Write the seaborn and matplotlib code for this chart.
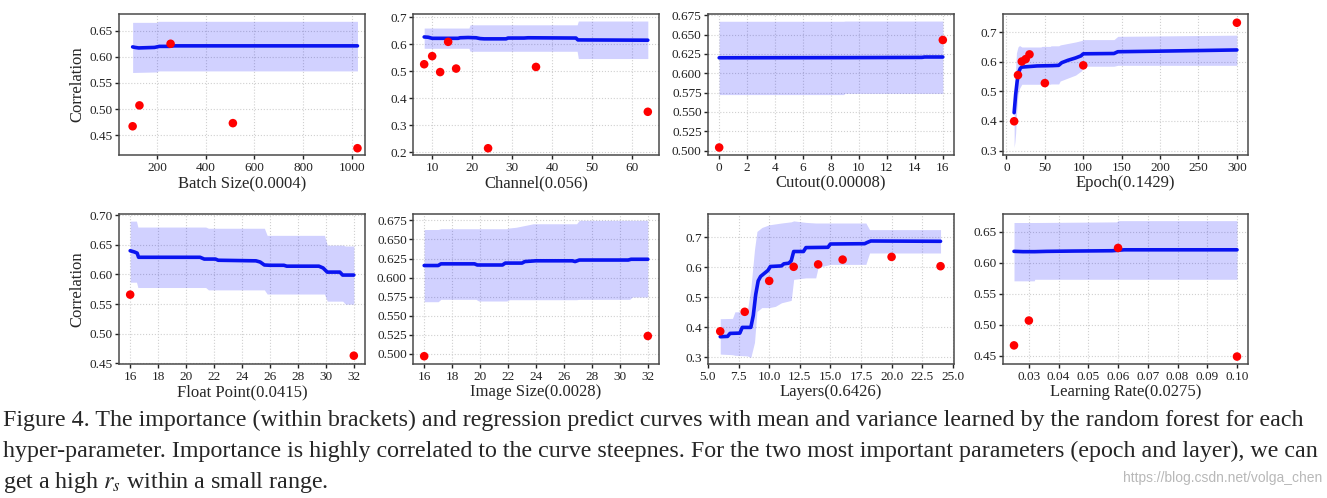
import numpy as np
import pandas as pd
import matplotlib
matplotlib.use("Agg")
import matplotlib.pyplot as plt
from matplotlib.ticker import MultipleLocator, FormatStrFormatter
import seaborn as sns

# ---------------- data ----------------
# Batch Size
bs_x = [100, 128, 256, 512, 1024]
bs_y = [0.467, 0.507, 0.625, 0.473, 0.425]
bs_cx = [100, 110, 125, 190, 210, 250, 270, 1024]
bs_mean = [0.619, 0.618, 0.617, 0.618, 0.620, 0.620, 0.621, 0.621]
bs_bx = [100, 200, 205, 1024]
bs_hi = [0.666, 0.666, 0.668, 0.668]
bs_lo = [0.570, 0.571, 0.573, 0.573]

# Channel
ch_x = [8, 10, 12, 14, 16, 24, 36, 64]
ch_y = [0.526, 0.556, 0.497, 0.609, 0.510, 0.215, 0.516, 0.350]
ch_cx = [8, 9, 10, 16.5, 17, 19, 21, 22, 23, 28.5, 29, 33, 34, 46, 46.5, 64]
ch_mean = [0.627, 0.626, 0.622, 0.622, 0.624, 0.625, 0.624, 0.621, 0.620, 0.620,
           0.623, 0.623, 0.624, 0.623, 0.616, 0.615]
ch_bx = [8, 19.2, 19.5, 46.3, 46.6, 64]
ch_hi = [0.660, 0.660, 0.672, 0.672, 0.686, 0.686]
ch_lo = [0.585, 0.585, 0.574, 0.574, 0.547, 0.547]

# Cutout
co_x = [0, 16]
co_y = [0.504, 0.643]
co_cx = [0, 9, 14.5, 14.7, 16]
co_mean = [0.620, 0.6202, 0.6205, 0.621, 0.621]
co_bx = [0, 8.9, 9.0, 16]
co_hi = [0.6672, 0.6672, 0.6675, 0.6675]
co_lo = [0.5724, 0.5724, 0.5740, 0.5740]

# Epoch
ep_x = [10, 15, 20, 25, 30, 50, 100, 300]
ep_y = [0.399, 0.555, 0.601, 0.609, 0.625, 0.528, 0.588, 0.732]
ep_cx = [10, 12, 14, 16, 18, 20, 30, 40, 60, 68, 72, 80, 90, 97, 100, 140, 145, 200, 250, 300]
ep_mean = [0.428, 0.490, 0.535, 0.565, 0.578, 0.582, 0.584, 0.586, 0.587, 0.588,
           0.597, 0.605, 0.613, 0.620, 0.627, 0.628, 0.634, 0.636, 0.638, 0.640]
ep_bx = [10, 11, 12, 13, 15, 17, 20, 45, 46, 57, 58, 68, 70, 80, 90, 98, 100, 140, 145, 300]
ep_hi = [0.450, 0.520, 0.580, 0.630, 0.650, 0.655, 0.650, 0.650, 0.652, 0.652,
         0.654, 0.654, 0.657, 0.662, 0.667, 0.672, 0.675, 0.675, 0.686, 0.690]
ep_lo = [0.310, 0.330, 0.360, 0.420, 0.490, 0.510, 0.524, 0.524, 0.524, 0.524,
         0.525, 0.525, 0.535, 0.545, 0.555, 0.570, 0.585, 0.585, 0.588, 0.588]

# Float Point
fp_x = [16, 32]
fp_y = [0.566, 0.463]
fp_cx = [16, 16.3, 16.5, 16.6, 21.0, 21.3, 22.1, 22.3, 25.0, 25.3, 25.6, 26.0, 27.0,
         27.2, 29.5, 29.8, 30.1, 31.0, 31.2, 32]
fp_mean = [0.640, 0.638, 0.636, 0.629, 0.629, 0.626, 0.626, 0.624, 0.623, 0.621,
           0.616, 0.6155, 0.6155, 0.614, 0.614, 0.611, 0.604, 0.604, 0.599, 0.599]
fp_bx = [16, 16.45, 16.55, 21.4, 21.6, 25.6, 25.8, 29.9, 30.1, 31.2, 31.4, 32]
fp_hi = [0.690, 0.690, 0.680, 0.680, 0.678, 0.678, 0.666, 0.666, 0.6495, 0.6495, 0.648, 0.648]
fp_lo = [0.587, 0.587, 0.578, 0.578, 0.574, 0.574, 0.567, 0.567, 0.555, 0.555, 0.550, 0.550]

# Image Size
is_x = [16, 32]
is_y = [0.497, 0.5235]
is_cx = [16, 17.0, 17.2, 19.6, 19.8, 21.6, 21.8, 23.0, 23.2, 24.0, 26.6, 26.8, 27.1,
         30.6, 30.8, 32]
is_mean = [0.6158, 0.6158, 0.618, 0.618, 0.6165, 0.6165, 0.619, 0.619, 0.621, 0.622,
           0.622, 0.621, 0.623, 0.623, 0.624, 0.624]
is_bx = [16, 17.0, 17.2, 19.7, 19.9, 21.9, 22.1, 22.6, 23.8, 26.9, 27.1, 30.7, 30.9, 32]
is_hi = [0.663, 0.663, 0.664, 0.664, 0.664, 0.664, 0.665, 0.666, 0.6705, 0.6705,
         0.675, 0.675, 0.675, 0.675]
is_lo = [0.5684, 0.5684, 0.5715, 0.5715, 0.5693, 0.5693, 0.571, 0.571, 0.571, 0.571,
         0.5715, 0.5715, 0.5746, 0.5746]

# Layers
ly_x = [6, 8, 10, 12, 14, 16, 20, 24]
ly_y = [0.387, 0.452, 0.555, 0.602, 0.610, 0.626, 0.635, 0.604]
ly_cx = [6, 6.6, 6.8, 7.6, 7.8, 8.5, 8.7, 8.9, 9.1, 9.3, 9.6, 9.9, 10.1, 11.0, 11.2,
         11.6, 11.8, 12.0, 12.8, 13.0, 14.8, 15.0, 17.8, 18.0, 18.3, 24]
ly_mean = [0.369, 0.370, 0.380, 0.381, 0.400, 0.400, 0.440, 0.510, 0.555, 0.570,
           0.580, 0.590, 0.603, 0.605, 0.612, 0.614, 0.622, 0.653, 0.653, 0.666,
           0.667, 0.678, 0.679, 0.683, 0.688, 0.687]
ly_bx = [6, 7.0, 7.2, 8.2, 8.5, 8.8, 9.0, 9.4, 10.0, 10.5, 11.0, 11.8, 12.0, 13.0,
         13.8, 14.0, 15.0, 17.9, 18.2, 24]
ly_hi = [0.429, 0.430, 0.452, 0.452, 0.530, 0.660, 0.720, 0.733, 0.742, 0.745,
         0.748, 0.752, 0.755, 0.750, 0.748, 0.748, 0.748, 0.748, 0.726, 0.726]
ly_lo = [0.311, 0.309, 0.307, 0.305, 0.300, 0.350, 0.453, 0.466, 0.466, 0.470,
         0.482, 0.490, 0.560, 0.565, 0.565, 0.600, 0.610, 0.610, 0.648, 0.648]

# Learning Rate
lr_x = [0.025, 0.03, 0.06, 0.1]
lr_y = [0.467, 0.507, 0.624, 0.449]
lr_cx = [0.025, 0.028, 0.032, 0.036, 0.045, 0.058, 0.062, 0.1]
lr_mean = [0.6185, 0.618, 0.618, 0.6185, 0.619, 0.6195, 0.621, 0.621]
lr_bx = [0.025, 0.0318, 0.032, 0.0595, 0.06, 0.1]
lr_hi = [0.665, 0.665, 0.665, 0.666, 0.668, 0.668]
lr_lo = [0.571, 0.571, 0.5735, 0.5735, 0.5735, 0.5735]

labels = ["Batch Size(0.0004)", "Channel(0.056)", "Cutout(0.00008)", "Epoch(0.1429)",
          "Float Point(0.0415)", "Image Size(0.0028)", "Layers(0.6426)", "Learning Rate(0.0275)"]

caption_lines = [
    "Figure 4. The importance (within brackets) and regression predict curves with mean and variance learned by the random forest for each",
    "hyper-parameter. Importance is highly correlated to the curve steepnes. For the two most important parameters (epoch and layer), we can",
    "get a high $r_s$ within a small range.",
]
watermark = "https://blog.csdn.net/volga_chen"

panels = [
    (bs_x, bs_y, bs_cx, bs_mean, bs_bx, bs_hi, bs_lo),
    (ch_x, ch_y, ch_cx, ch_mean, ch_bx, ch_hi, ch_lo),
    (co_x, co_y, co_cx, co_mean, co_bx, co_hi, co_lo),
    (ep_x, ep_y, ep_cx, ep_mean, ep_bx, ep_hi, ep_lo),
    (fp_x, fp_y, fp_cx, fp_mean, fp_bx, fp_hi, fp_lo),
    (is_x, is_y, is_cx, is_mean, is_bx, is_hi, is_lo),
    (ly_x, ly_y, ly_cx, ly_mean, ly_bx, ly_hi, ly_lo),
    (lr_x, lr_y, lr_cx, lr_mean, lr_bx, lr_hi, lr_lo),
]

# ---------------- style ----------------
sns.set_theme(style="whitegrid")
plt.rcParams["font.family"] = ["Liberation Serif", "DejaVu Serif"]
plt.rcParams["mathtext.fontset"] = "stix"
plt.rcParams.update({
    "axes.edgecolor": "#4a4a4a",
    "axes.linewidth": 1.1,
    "grid.color": "#d0d0d0",
    "grid.linestyle": ":",
    "grid.linewidth": 0.8,
    "xtick.bottom": True,
    "ytick.left": True,
    "xtick.major.size": 3,
    "ytick.major.size": 3,
    "xtick.major.width": 1,
    "ytick.major.width": 1,
    "xtick.color": "#222222",
    "ytick.color": "#222222",
    "xtick.major.pad": 2,
    "ytick.major.pad": 1.5,
})

W, H = 1327, 498
fig = plt.figure(figsize=(W / 100, H / 100), dpi=100)

cols = [(119, 246), (413, 246), (708, 246), (1003, 245)]
rows = [(14, 155), (214, 364)]

ylims = [(0.412, 0.682), (0.190, 0.712), (0.4943, 0.6766), (0.285, 0.7615),
         (0.449, 0.702), (0.4868, 0.6833), (0.278, 0.778), (0.437, 0.6787)]
ysteps = [0.05, 0.1, 0.025, 0.1, 0.05, 0.025, 0.1, 0.05]
xsteps = [200, 10, 2, 50, 2, 2, 2.5, 0.01]
xlims = [(44, 1055), (5.2, 66.8), (-0.8, 16.8), (-4.5, 314.5),
         (15.2, 32.8), (15.2, 32.8), (5.0, 25.1), (0.0213, 0.1037)]

for i, (px, py, cx, cm, bx, bh, bl) in enumerate(panels):
    r, c = divmod(i, 4)
    top, bot = rows[r]
    left, width = cols[c]
    ax = fig.add_axes([left / W, 1 - bot / H, width / W, (bot - top) / H])
    ax.fill_between(bx, bl, bh, color="#0000ff", alpha=0.18, linewidth=0)
    curve = pd.DataFrame({"x": cx, "y": cm})
    sns.lineplot(data=curve, x="x", y="y", ax=ax, color="#0a14f0", linewidth=2.6,
                 estimator=None, sort=False)
    pts = pd.DataFrame({"x": px, "y": py})
    sns.scatterplot(data=pts, x="x", y="y", ax=ax, color="#ff0000", s=38,
                    edgecolor="none", zorder=5)
    ax.set_ylim(*ylims[i])
    ax.set_xlim(*xlims[i])
    ax.yaxis.set_major_locator(MultipleLocator(ysteps[i]))
    ax.xaxis.set_major_locator(MultipleLocator(xsteps[i]))
    if i == 0:
        ax.set_xticks([200, 400, 600, 800, 1000])
    if i == 7:
        ax.set_xticks([0.03, 0.04, 0.05, 0.06, 0.07, 0.08, 0.09, 0.10])
        ax.xaxis.set_major_formatter(FormatStrFormatter("%.2f"))
    if i == 1:
        ax.yaxis.set_major_formatter(FormatStrFormatter("%.1f"))
    ax.tick_params(labelsize=9.5)
    ax.set_xlabel(labels[i], fontsize=12, labelpad=1)
    if c == 0:
        ax.set_ylabel("Correlation", fontsize=12, labelpad=3)
    else:
        ax.set_ylabel("")
    ax.grid(True)

# caption: one font size chosen so that the widest line fits the figure width
fs0 = 18
tmp = [fig.text(0, 0, s, fontsize=fs0) for s in caption_lines[:2]]
fig.canvas.draw()
wmax = max(t.get_window_extent().width for t in tmp)
for t in tmp:
    t.remove()
fs = fs0 * 1318 / wmax
for k, yb in enumerate([426, 457, 488]):
    fig.text(3 / W, 1 - yb / H, caption_lines[k], fontsize=fs, va="baseline", ha="left")
fig.text(1322 / W, 1 - 482 / H, watermark, fontsize=10, color="#b8b8b8",
         family=["Liberation Sans", "DejaVu Sans"], va="baseline", ha="right")

fig.savefig("out.png", dpi=100)
